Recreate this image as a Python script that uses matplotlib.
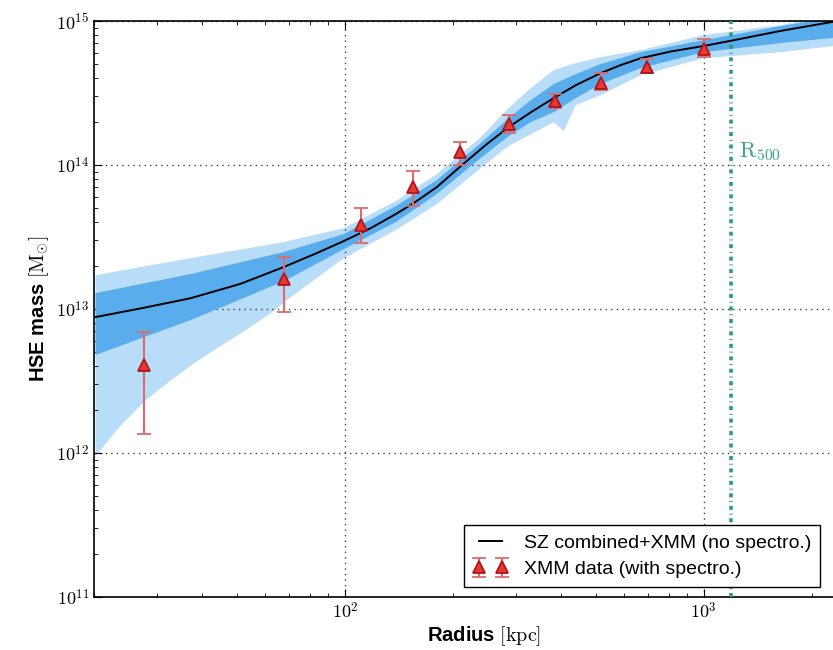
import numpy as np
import matplotlib
matplotlib.use("Agg")
import matplotlib.pyplot as plt
from matplotlib.ticker import FuncFormatter

# Profil de masse hydrostatique SZ+XMM (kpc, M_sun)
r_model = [20.2, 27.5, 37.2, 51.3, 67.6, 82.0, 99.4, 118.1, 138.7, 155.6,
           180.5, 210.4, 247, 286.4, 330, 382, 440, 516, 587, 668, 809,
           1000, 1189, 1637, 2350]
m_model = [8.8e12, 1.02e13, 1.19e13, 1.50e13, 1.96e13, 2.40e13, 2.97e13,
           3.65e13, 4.57e13, 5.45e13, 7.04e13, 9.84e13, 1.38e14, 1.84e14,
           2.33e14, 2.92e14, 3.59e14, 4.35e14, 4.95e14, 5.53e14, 6.15e14,
           6.72e14, 7.30e14, 8.55e14, 1.0e15]

# Enveloppes de confiance : bord haut / bas, 1 et 2 sigma
r_edge = [20.2, 37.2, 67.6, 99.4, 138.7, 180.5, 239, 286, 330, 382, 440,
          516, 668, 1000, 1637, 2409]
m_2sig_hi = [1.72e13, 2.26e13, 2.92e13, 3.65e13, 5.62e13, 8.66e13, 1.56e14,
             2.49e14, 3.43e14, 4.57e14, 5.11e14, 5.62e14, 6.29e14, 8.0e14,
             9.38e14, 1.12e15]
m_1sig_hi = [1.29e13, 1.75e13, 2.49e13, 3.32e13, 5.19e13, 7.87e13, 1.42e14,
             2.12e14, 2.83e14, 3.65e14, 4.29e14, 5.03e14, 6.09e14, 7.38e14,
             9.23e14, 1.08e15]
m_1sig_lo = [4.80e12, 8.39e12, 1.56e13, 2.61e13, 4.02e13, 6.29e13, 1.12e14,
             1.59e14, 1.99e14, 2.33e14, 2.92e14, 3.65e14, 4.72e14, 6.09e14,
             7.04e14, 7.74e14]
r_edge_lo2 = [20.2, 23.8, 27.9, 32.8, 38.5, 45.1, 53.0, 62.2, 70.7, 99.4,
              138.7, 180.5, 239, 286, 330, 382, 407, 440, 516, 668, 1000,
              1637, 2409]
m_2sig_lo = [9.53e11, 1.56e12, 2.33e12, 3.21e12, 4.29e12, 5.54e12, 7.15e12,
             9.38e12, 1.21e13, 2.26e13, 3.54e13, 5.36e13, 9.53e13, 1.36e14,
             1.64e14, 1.99e14, 1.72e14, 2.61e14, 3.06e14, 4.22e14, 5.53e14,
             6.09e14, 6.81e14]

# Points XMM (avec spectroscopie)
r_xmm = [27.5, 67.6, 110.8, 154.6, 210, 286, 385, 516, 693, 1000]
m_xmm = [4.08e12, 1.62e13, 3.83e13, 7.1e13, 1.23e14, 1.93e14, 2.78e14,
         3.71e14, 4.8e14, 6.4e14]
m_xmm_hi = [6.92e12, 2.30e13, 5.0e13, 9.1e13, 1.45e14, 2.22e14, 3.1e14,
            4.35e14, 5.5e14, 7.5e14]
m_xmm_lo = [1.36e12, 9.53e12, 2.87e13, 5.2e13, 1.0e14, 1.67e14, 2.5e14,
            3.3e14, 4.37e14, 5.6e14]

r500 = 1189

plt.rcParams['font.family'] = ['Liberation Sans', 'DejaVu Sans']
plt.rcParams['mathtext.fontset'] = 'cm'
plt.rcParams['xtick.direction'] = 'in'
plt.rcParams['ytick.direction'] = 'in'
plt.rcParams['xtick.top'] = True
plt.rcParams['ytick.right'] = True
plt.rcParams['xtick.major.size'] = 6
plt.rcParams['ytick.major.size'] = 6
plt.rcParams['xtick.minor.size'] = 3
plt.rcParams['ytick.minor.size'] = 3

fig = plt.figure(figsize=(8.33, 6.5), dpi=100)
ax = fig.add_axes([0.1128, 0.0815, 0.9376, 0.886])

# bande 2 sigma puis 1 sigma
ax.fill(r_edge + r_edge_lo2[::-1], m_2sig_hi + m_2sig_lo[::-1],
        color='#b7ddf9', lw=0, zorder=1)
ax.fill(r_edge + r_edge[::-1], m_1sig_hi + m_1sig_lo[::-1],
        color='#5aaded', lw=0, zorder=2)
ax.plot(r_model, m_model, color='k', lw=1.4, zorder=4,
        label='SZ combined+XMM (no spectro.)')

err = [np.array(m_xmm) - np.array(m_xmm_lo), np.array(m_xmm_hi) - np.array(m_xmm)]
ax.errorbar(r_xmm, m_xmm, yerr=err, fmt='^', ms=8, mfc='#e43a30', mec='#b0141c',
            mew=1.3, ecolor='#e06a6a', elinewidth=1.5, capsize=5, capthick=1.8,
            zorder=5, label='XMM data (with spectro.)')

ln = ax.axvline(r500, color='#2e9e72', lw=2.6, zorder=3)
ln.set_dashes((1.1, 1.05, 0.25, 1.05))
ax.text(1250, 1.25e14, r'$\mathrm{R}_{500}$', color='#3aa57f', fontsize=16,
        va='center', ha='left')

ax.set_xscale('log')
ax.set_yscale('log')
ax.set_xlim(20, 3000)
ax.set_ylim(1e11, 1e15)
puiss = FuncFormatter(lambda v, pos: r'$10^{%d}$' % round(np.log10(v)))
ax.xaxis.set_major_formatter(puiss)
ax.yaxis.set_major_formatter(puiss)
ax.grid(True, which='major', color='0.25', linestyle=(0, (1, 3)), lw=1)
ax.tick_params(labelsize=13)
for s in ax.spines.values():
    s.set_linewidth(1.2)

ax.set_xlabel(r'Radius $\mathrm{[kpc]}$', fontsize=14.5, fontweight='bold',
              labelpad=1)
ax.set_ylabel(r'HSE mass $[\mathrm{M}_{\odot}]$', fontsize=14.5, fontweight='bold')

leg = ax.legend(loc='lower right', bbox_to_anchor=(0.984, 0.097),
                bbox_transform=fig.transFigure, numpoints=2, fontsize=14,
                fancybox=False, framealpha=1, borderaxespad=0,
                handlelength=1.8, borderpad=0.45, labelspacing=0.45)
leg.get_frame().set_edgecolor('k')
leg.get_frame().set_linewidth(1.0)

fig.savefig('out.png', dpi=100)
